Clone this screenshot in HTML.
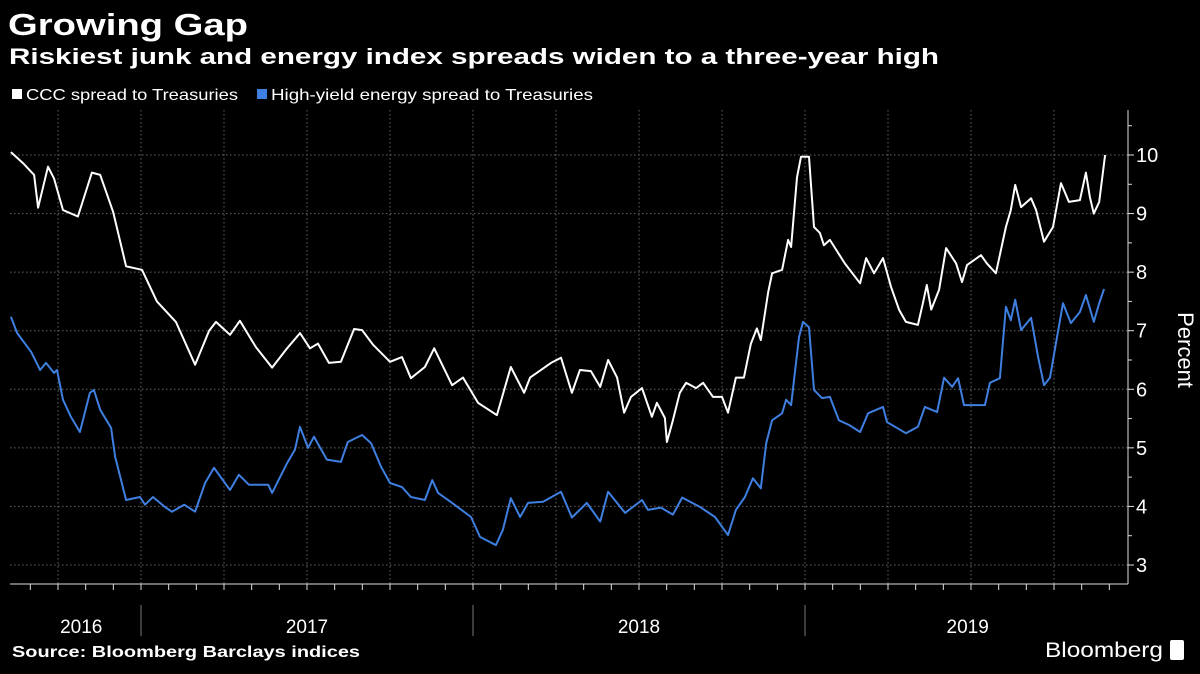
<!DOCTYPE html>
<html><head><meta charset="utf-8"><style>
html,body{margin:0;padding:0;background:#000;}
svg{display:block;font-family:"Liberation Sans",sans-serif;}
</style></head><body>
<svg id="chart" width="1200" height="674" viewBox="0 0 1200 674" xmlns="http://www.w3.org/2000/svg">
<rect width="1200" height="674" fill="#000"/>
<text x="8" y="35" fill="#fff" font-size="31" font-weight="bold" textLength="240" lengthAdjust="spacingAndGlyphs">Growing Gap</text>
<text x="9" y="64" fill="#fff" font-size="22" font-weight="bold" textLength="930" lengthAdjust="spacingAndGlyphs">Riskiest junk and energy index spreads widen to a three-year high</text>
<g>
<rect x="12" y="89" width="10" height="10" fill="#fff"/>
<text x="26" y="100" fill="#fff" font-size="16" textLength="212" lengthAdjust="spacingAndGlyphs">CCC spread to Treasuries</text>
<rect x="257" y="89" width="10" height="10" fill="#3f7fe0"/>
<text x="271" y="100" fill="#fff" font-size="16" textLength="322" lengthAdjust="spacingAndGlyphs">High-yield energy spread to Treasuries</text>
</g>
<g id="grid"></g>
<g id="axes"></g>
<g id="series"></g>
<text transform="translate(1178,350) rotate(90)" text-anchor="middle" fill="#fff" font-size="22">Percent</text>
<text x="12" y="657" fill="#fff" font-size="16" font-weight="bold" textLength="348" lengthAdjust="spacingAndGlyphs">Source: Bloomberg Barclays indices</text>
<text x="1045" y="657" fill="#fff" font-size="21" textLength="118" lengthAdjust="spacingAndGlyphs">Bloomberg</text>
<rect x="1170" y="640" width="14" height="20" rx="2" fill="#fff"/>
</svg>
<script>
const cccDates=[2016.608,2016.645,2016.678,2016.690,2016.720,2016.738,2016.765,2016.810,2016.852,2016.877,2016.916,2016.955,2017.003,2017.048,2017.105,2017.163,2017.205,2017.226,2017.268,2017.298,2017.346,2017.395,2017.440,2017.479,2017.509,2017.533,2017.566,2017.602,2017.642,2017.666,2017.699,2017.750,2017.786,2017.813,2017.855,2017.883,2017.937,2017.970,2018.015,2018.072,2018.114,2018.154,2018.172,2018.235,2018.265,2018.298,2018.322,2018.355,2018.383,2018.407,2018.434,2018.455,2018.476,2018.509,2018.539,2018.554,2018.578,2018.584,2018.602,2018.623,2018.642,2018.672,2018.693,2018.723,2018.750,2018.768,2018.792,2018.816,2018.837,2018.855,2018.867,2018.889,2018.901,2018.931,2018.949,2018.958,2018.976,2018.988,2019.012,2019.027,2019.045,2019.057,2019.075,2019.120,2019.166,2019.184,2019.208,2019.235,2019.259,2019.283,2019.304,2019.340,2019.355,2019.367,2019.380,2019.404,2019.425,2019.455,2019.473,2019.488,2019.530,2019.548,2019.575,2019.605,2019.620,2019.633,2019.651,2019.681,2019.696,2019.720,2019.747,2019.771,2019.795,2019.828,2019.846,2019.858,2019.870,2019.886,2019.904];
const cccValues=[10.05,9.86,9.66,9.1,9.8,9.6,9.06,8.95,9.7,9.66,9.03,8.1,8.04,7.5,7.15,6.42,7.0,7.15,6.93,7.17,6.72,6.37,6.7,6.96,6.7,6.78,6.45,6.47,7.03,7.01,6.76,6.47,6.55,6.19,6.38,6.7,6.07,6.2,5.77,5.56,6.38,5.94,6.2,6.45,6.54,5.94,6.33,6.31,6.04,6.5,6.2,5.6,5.87,6.02,5.53,5.77,5.51,5.1,5.47,5.94,6.11,6.02,6.11,5.87,5.87,5.6,6.2,6.2,6.78,7.04,6.84,7.65,7.98,8.04,8.55,8.43,9.62,9.97,9.97,8.77,8.67,8.46,8.55,8.15,7.81,8.24,7.98,8.24,7.75,7.36,7.15,7.1,7.47,7.78,7.36,7.7,8.41,8.15,7.83,8.12,8.29,8.15,7.98,8.77,9.06,9.49,9.11,9.26,9.06,8.52,8.77,9.52,9.2,9.23,9.7,9.28,9.0,9.2,10.0];
const hyDates=[2016.608,2016.627,2016.669,2016.696,2016.714,2016.738,2016.747,2016.765,2016.789,2016.816,2016.846,2016.858,2016.877,2016.910,2016.922,2016.955,2016.997,2017.012,2017.036,2017.072,2017.093,2017.130,2017.163,2017.193,2017.220,2017.268,2017.295,2017.325,2017.383,2017.395,2017.440,2017.464,2017.479,2017.503,2017.521,2017.560,2017.602,2017.623,2017.666,2017.693,2017.723,2017.750,2017.786,2017.813,2017.855,2017.877,2017.895,2017.937,2017.994,2018.021,2018.069,2018.090,2018.114,2018.142,2018.166,2018.211,2018.265,2018.298,2018.343,2018.383,2018.407,2018.458,2018.509,2018.527,2018.566,2018.602,2018.630,2018.684,2018.729,2018.768,2018.792,2018.819,2018.843,2018.867,2018.883,2018.901,2018.931,2018.943,2018.958,2018.982,2018.994,2019.012,2019.027,2019.051,2019.075,2019.102,2019.133,2019.166,2019.190,2019.235,2019.247,2019.304,2019.340,2019.361,2019.398,2019.419,2019.443,2019.461,2019.479,2019.506,2019.542,2019.557,2019.587,2019.605,2019.620,2019.633,2019.651,2019.681,2019.702,2019.720,2019.738,2019.759,2019.777,2019.801,2019.828,2019.846,2019.870,2019.886,2019.901];
const hyValues=[7.24,6.96,6.64,6.33,6.45,6.28,6.33,5.82,5.53,5.27,5.94,5.99,5.65,5.34,4.85,4.11,4.16,4.03,4.16,3.99,3.91,4.03,3.91,4.4,4.66,4.28,4.54,4.37,4.37,4.23,4.74,4.97,5.36,5.0,5.19,4.8,4.76,5.1,5.22,5.08,4.68,4.4,4.33,4.16,4.11,4.45,4.23,4.06,3.82,3.48,3.34,3.6,4.14,3.82,4.06,4.08,4.25,3.81,4.06,3.74,4.25,3.89,4.11,3.94,3.98,3.86,4.15,3.99,3.82,3.51,3.94,4.16,4.48,4.31,5.08,5.47,5.59,5.82,5.73,6.89,7.15,7.06,5.99,5.85,5.87,5.47,5.39,5.27,5.59,5.7,5.44,5.25,5.36,5.7,5.61,6.2,6.04,6.19,5.73,5.73,5.73,6.11,6.19,7.41,7.18,7.53,7.01,7.22,6.55,6.07,6.2,6.89,7.47,7.13,7.32,7.61,7.15,7.47,7.71];
const yTicks=[3,4,5,6,7,8,9,10];
const yearLabels=["2016","2017","2018","2019"];
const yearPos=[2016.82,2017.5,2018.5,2019.49];
const yearStarts=[2017,2018,2019];

const NS="http://www.w3.org/2000/svg";
const X0=10,X1=1128,YT=110,YB=584;
function xs(t){return 141+(t-2017)*332;}
function ys(v){return 155+(10-v)*58.57;}
function mk(tag,attrs,parent){const e=document.createElementNS(NS,tag);for(const k in attrs)e.setAttribute(k,attrs[k]);parent.appendChild(e);return e;}
const grid=document.getElementById('grid'),axes=document.getElementById('axes'),series=document.getElementById('series');

yTicks.forEach(v=>{
  const g=mk('line',{x1:X0,x2:X1,y1:ys(v),y2:ys(v),stroke:'#666','stroke-width':1,'stroke-dasharray':'1.5,2.5'},grid);
  
  
  const tk=mk('line',{x1:X1,x2:X1+6,y1:ys(v),y2:ys(v),stroke:'#ddd'},axes);
  
  
  const lb=mk('text',{x:X1+8,y:ys(v)+7,fill:'#fff','font-size':20},axes);
  lb.textContent=v;
  
  
});
for(let v=3.5;v<10.6;v+=1){
  const tk=mk('line',{x1:X1,x2:X1+4,y1:ys(v),y2:ys(v),stroke:'#ddd'},axes);
  
  
}
for(let q=0;q<14;q++){
  const t=2016.75+q*0.25,x=xs(t);
  if(x<X0||x>X1)continue;
  const g=mk('line',{x1:x,x2:x,y1:YT,y2:YB,stroke:'#666','stroke-width':1,'stroke-dasharray':'1.5,2.5'},grid);
  
  
}
const yax=mk('line',{x1:X1,x2:X1,y1:YT,y2:YB,stroke:'#ddd'},axes);


const xax=mk('line',{x1:X0,x2:X1,y1:YB,y2:YB,stroke:'#ddd'},axes);


for(let m=0;m<42;m++){
  const x=xs(2016+7/12+m/12);
  if(x<X0||x>X1-5)continue;
  const tk=mk('line',{x1:x,x2:x,y1:YB,y2:YB+6,stroke:'#ddd'},axes);
  
  
}
yearStarts.forEach(t=>{
  const s=mk('line',{x1:xs(t),x2:xs(t),y1:605,y2:636,stroke:'#777'},axes);
  
  
});
yearLabels.forEach((l,i)=>{
  const tx=mk('text',{x:xs(yearPos[i]),y:633,fill:'#fff','font-size':19,'text-anchor':'middle'},axes);
  tx.textContent=l;
  
  
});
function line(dates,vals,color,name){
  const d=dates.map((t,i)=>(i?'L':'M')+xs(t).toFixed(1)+','+ys(vals[i]).toFixed(1)).join('');
  const p=mk('path',{d:d,fill:'none',stroke:color,'stroke-width':2,'stroke-linejoin':'round'},series);
  
  
}
line(hyDates,hyValues,'#3f7fe0','energy-spread-line');
line(cccDates,cccValues,'#ffffff','ccc-spread-line');
</script>
</body></html>
